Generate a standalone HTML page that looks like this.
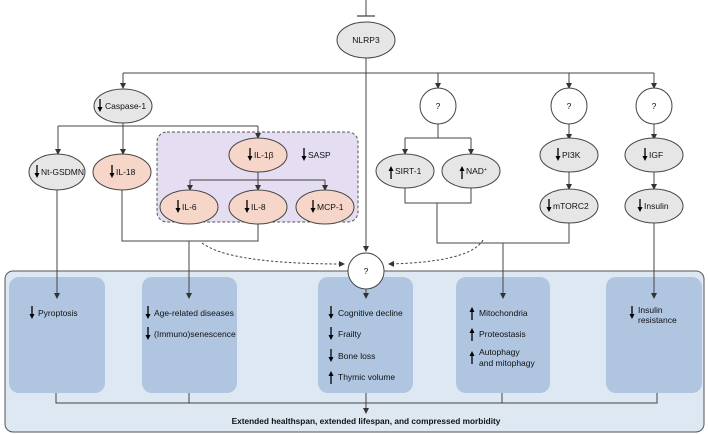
<!DOCTYPE html>
<html><head><meta charset="utf-8"><style>
html,body{margin:0;padding:0;background:#fff;}
svg{display:block;font-family:"Liberation Sans",sans-serif;}
text{font-size:8.5px;fill:#111;}
</style></head><body>
<svg width="708" height="434" viewBox="0 0 708 434" xmlns="http://www.w3.org/2000/svg">
<defs>
<marker id="a" markerWidth="6" markerHeight="6" refX="5" refY="3" orient="auto" markerUnits="userSpaceOnUse"><path d="M0,0 L6,3 L0,6 z" fill="#333"/></marker>
<g id="dn"><line x1="0" y1="-7" x2="0" y2="4" stroke="#000" stroke-width="1.3"/><path d="M-2.5,1 L0,6 L2.5,1 z" fill="#000"/></g>
<g id="up"><line x1="0" y1="7" x2="0" y2="-4" stroke="#000" stroke-width="1.3"/><path d="M-2.5,-1 L0,-6 L2.5,-1 z" fill="#000"/></g>
</defs>
<g stroke="#444" stroke-width="1" fill="none">
<!-- outer box -->
<rect x="5" y="271" width="699" height="161" rx="8" fill="#dde8f2" stroke="#555"/>
</g>
<g fill="#afc5e0">
<rect x="9" y="277" width="96" height="116" rx="10"/>
<rect x="142" y="277" width="95" height="116" rx="10"/>
<rect x="318" y="277" width="95" height="116" rx="10"/>
<rect x="456" y="277" width="94" height="116" rx="10"/>
<rect x="606" y="277" width="96" height="116" rx="10"/>
</g>
<!-- purple box -->
<rect x="157" y="132" width="201" height="90" rx="10" fill="#e5ddf1" stroke="#555" stroke-dasharray="3,2"/>
<g stroke="#444" stroke-width="1" fill="none">
<line x1="366" y1="0" x2="366" y2="16"/>
<line x1="357" y1="16" x2="375" y2="16" stroke-width="1.3"/>
<line x1="366" y1="58" x2="366" y2="251" marker-end="url(#a)"/>
<line x1="123" y1="73" x2="654" y2="73"/>
<line x1="123" y1="73" x2="123" y2="88" marker-end="url(#a)"/>
<line x1="438" y1="73" x2="438" y2="88" marker-end="url(#a)"/>
<line x1="569" y1="73" x2="569" y2="88" marker-end="url(#a)"/>
<line x1="654" y1="73" x2="654" y2="88" marker-end="url(#a)"/>
<line x1="123" y1="123" x2="123" y2="154" marker-end="url(#a)"/>
<line x1="58" y1="126" x2="258" y2="126"/>
<line x1="58" y1="126" x2="58" y2="154" marker-end="url(#a)"/>
<line x1="258" y1="126" x2="258" y2="138" marker-end="url(#a)"/>
<line x1="258" y1="172" x2="258" y2="190" marker-end="url(#a)"/>
<line x1="190" y1="180" x2="325" y2="180"/>
<line x1="190" y1="180" x2="190" y2="190" marker-end="url(#a)"/>
<line x1="325" y1="180" x2="325" y2="190" marker-end="url(#a)"/>
<polyline points="122,190 122,241 258,241 258,224"/>
<line x1="189" y1="241" x2="189" y2="298" marker-end="url(#a)"/>
<line x1="57" y1="190" x2="57" y2="298" marker-end="url(#a)"/>
<line x1="438" y1="124" x2="438" y2="138"/>
<line x1="405" y1="138" x2="471" y2="138"/>
<line x1="405" y1="138" x2="405" y2="154" marker-end="url(#a)"/>
<line x1="471" y1="138" x2="471" y2="154" marker-end="url(#a)"/>
<polyline points="405,187 405,203 471,203 471,187"/>
<polyline points="437,203 437,243 569,243 569,222"/>
<line x1="503" y1="243" x2="503" y2="298" marker-end="url(#a)"/>
<line x1="569" y1="124" x2="569" y2="139" marker-end="url(#a)"/>
<line x1="569" y1="172" x2="569" y2="189" marker-end="url(#a)"/>
<line x1="654" y1="124" x2="654" y2="139" marker-end="url(#a)"/>
<line x1="654" y1="172" x2="654" y2="189" marker-end="url(#a)"/>
<line x1="654" y1="222" x2="654" y2="298" marker-end="url(#a)"/>
<line x1="366" y1="289" x2="366" y2="298" marker-end="url(#a)"/>
<path d="M202,243 Q230,264 344,264" stroke-dasharray="2.5,2" marker-end="url(#a)"/>
<path d="M483,240 Q470,262 389,264" stroke-dasharray="2.5,2" marker-end="url(#a)"/>
<polyline points="56,393 56,403 657,403 657,393"/>
<line x1="189" y1="393" x2="189" y2="403"/>
<line x1="502" y1="393" x2="502" y2="403"/>
<line x1="366" y1="393" x2="366" y2="413" marker-end="url(#a)"/>
</g>
<g stroke="#444" stroke-width="1">
<ellipse cx="366" cy="40" rx="29" ry="18" fill="#e6e6e6"/>
<ellipse cx="123" cy="106" rx="29" ry="17" fill="#e6e6e6"/>
<ellipse cx="57" cy="172" rx="28" ry="18" fill="#e6e6e6"/>
<ellipse cx="122" cy="172" rx="29" ry="18" fill="#f6d6c8"/>
<ellipse cx="258" cy="155" rx="29" ry="17" fill="#f6d6c8"/>
<ellipse cx="189" cy="207" rx="29" ry="17" fill="#f6d6c8"/>
<ellipse cx="258" cy="207" rx="29" ry="17" fill="#f6d6c8"/>
<ellipse cx="325" cy="207" rx="29" ry="17" fill="#f6d6c8"/>
<circle cx="438" cy="106" r="18" fill="#fff"/>
<circle cx="569" cy="106" r="18" fill="#fff"/>
<circle cx="654" cy="106" r="18" fill="#fff"/>
<ellipse cx="405" cy="171" rx="29" ry="17" fill="#e6e6e6"/>
<ellipse cx="471" cy="171" rx="29" ry="17" fill="#e6e6e6"/>
<ellipse cx="569" cy="155" rx="29" ry="17" fill="#e6e6e6"/>
<ellipse cx="569" cy="206" rx="29" ry="17" fill="#e6e6e6"/>
<ellipse cx="654" cy="155" rx="29" ry="17" fill="#e6e6e6"/>
<ellipse cx="654" cy="206" rx="29" ry="17" fill="#e6e6e6"/>
<circle cx="366" cy="271" r="18" fill="#fff"/>
</g>
<text x="366" y="43" text-anchor="middle">NLRP3</text>
<use href="#dn" x="100" y="106"/><text x="105" y="109">Caspase-1</text>
<use href="#dn" x="37" y="172"/><text x="41" y="175">Nt-GSDMN</text>
<use href="#dn" x="112" y="172"/><text x="116" y="175">IL-18</text>
<use href="#dn" x="250" y="155"/><text x="254" y="158">IL-1β</text>
<use href="#dn" x="304" y="155"/><text x="308" y="158">SASP</text>
<use href="#dn" x="178" y="207"/><text x="182" y="210">IL-6</text>
<use href="#dn" x="247" y="207"/><text x="251" y="210">IL-8</text>
<use href="#dn" x="313" y="207"/><text x="317" y="210">MCP-1</text>
<text x="438" y="109" text-anchor="middle">?</text>
<text x="569" y="109" text-anchor="middle">?</text>
<text x="654" y="109" text-anchor="middle">?</text>
<text x="366" y="274" text-anchor="middle">?</text>
<use href="#up" x="391" y="172"/><text x="395" y="174">SIRT-1</text>
<use href="#up" x="462" y="172"/><text x="466" y="174">NAD<tspan font-size="5" dy="-3">+</tspan></text>
<use href="#dn" x="558" y="155"/><text x="562" y="158">PI3K</text>
<use href="#dn" x="549" y="206"/><text x="553" y="209">mTORC2</text>
<use href="#dn" x="645" y="155"/><text x="649" y="158">IGF</text>
<use href="#dn" x="640" y="206"/><text x="644" y="209">Insulin</text>
<use href="#dn" x="32" y="313"/><text x="38" y="316">Pyroptosis</text>
<use href="#dn" x="148" y="313"/><text x="154" y="316">Age-related diseases</text>
<use href="#dn" x="148" y="334"/><text x="154" y="337">(Immuno)senescence</text>
<use href="#dn" x="331" y="313"/><text x="338" y="316">Cognitive decline</text>
<use href="#dn" x="331" y="334"/><text x="338" y="337">Frailty</text>
<use href="#dn" x="331" y="356"/><text x="338" y="359">Bone loss</text>
<use href="#up" x="331" y="377"/><text x="338" y="380">Thymic volume</text>
<use href="#up" x="472" y="313"/><text x="479" y="316">Mitochondria</text>
<use href="#up" x="472" y="334"/><text x="479" y="337">Proteostasis</text>
<use href="#up" x="472" y="357"/><text x="479" y="355">Autophagy</text><text x="479" y="366">and mitophagy</text>
<use href="#dn" x="632" y="313"/><text x="638" y="313">Insulin</text><text x="638" y="323">resistance</text>
<text x="366" y="424" text-anchor="middle" font-weight="bold" style="font-size:8.3px">Extended healthspan, extended lifespan, and compressed morbidity</text>
</svg>
</body></html>
